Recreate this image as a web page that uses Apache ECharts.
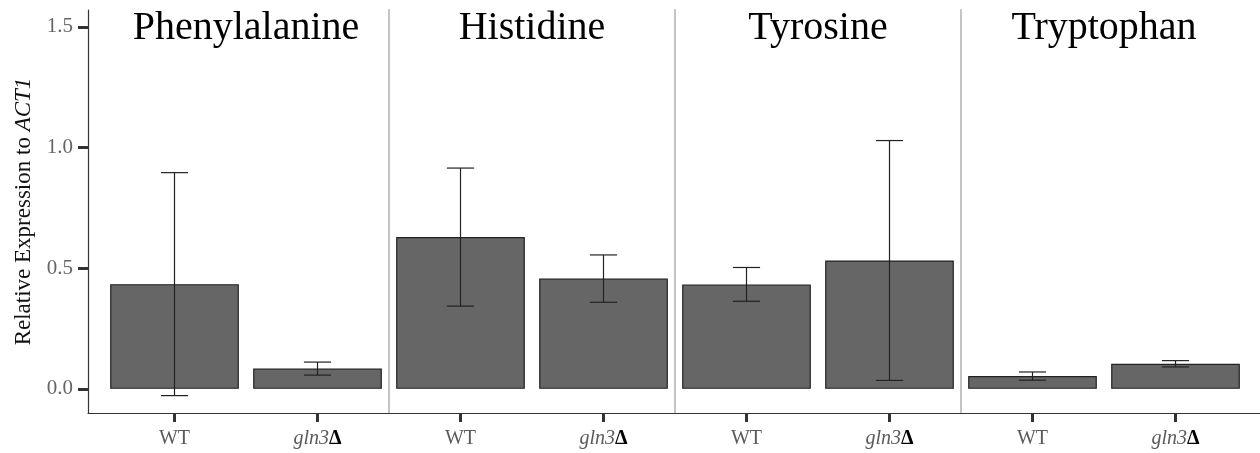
<!DOCTYPE html>
<html>
<head>
<meta charset="utf-8">
<script src="https://cdn.jsdelivr.net/npm/echarts@6/dist/echarts.min.js"></script>
<style>
  html, body { margin: 0; padding: 0; background: #fff; }
  #chart { width: 1260px; height: 453px; }
</style>
</head>
<body>
<div id="chart"></div>
<script>
// values
const panels = ['Phenylalanine', 'Histidine', 'Tyrosine', 'Tryptophan']
const strains = ['WT', 'gln3Δ']
const wtMean = [0.434, 0.629, 0.433, 0.053]
const wtErr = [0.462, 0.286, 0.070, 0.017]
const gln3Mean = [0.084, 0.457, 0.532, 0.104]
const gln3Err = [0.027, 0.098, 0.497, 0.013]
const yTicks = [0, 0.5, 1, 1.5]

const font = 'Liberation Serif'
const yMin = -0.1
const yMax = 1.57
const gridTop = 10
const gridBottom = 40
const panelLeft = 103
const panelWidth = 286

const chart = echarts.init(document.getElementById('chart'), null, { renderer: 'canvas' })

const grids = [{ left: 88, right: 0, top: gridTop, bottom: gridBottom }]
const xAxes = [{
  gridIndex: 0, type: 'value', min: 0, max: 1,
  axisLine: { show: true, onZero: false, lineStyle: { color: '#333', width: 1.2 } },
  axisTick: { show: false }, axisLabel: { show: false }, splitLine: { show: false }
}]
const yAxes = [{
  gridIndex: 0, type: 'value', min: yMin, max: yMax,
  name: '{a|Relative Expression to }{b|ACT1}',
  nameLocation: 'middle', nameRotate: 90, nameGap: 53,
  nameTextStyle: {
    rich: {
      a: { fontFamily: font, fontSize: 23, color: '#111' },
      b: { fontFamily: font, fontSize: 23, color: '#111', fontStyle: 'italic' }
    }
  },
  axisLine: { show: true, onZero: false, lineStyle: { color: '#333', width: 1.2 } },
  axisTick: { show: true, customValues: yTicks, length: 10, lineStyle: { color: '#333', width: 3 } },
  axisLabel: {
    customValues: yTicks, margin: 15, fontFamily: font, fontSize: 21, color: '#666',
    formatter: (v) => v.toFixed(1)
  },
  splitLine: { show: false }
}]
const titles = []
const series = []

panels.forEach((p, i) => {
  const gi = i + 1
  grids.push({ left: panelLeft + panelWidth * i, width: panelWidth, top: gridTop, bottom: gridBottom })
  xAxes.push({
    gridIndex: gi, type: 'category', data: strains,
    axisLine: { show: false, onZero: false },
    axisTick: { show: true, alignWithLabel: true, length: 9, lineStyle: { color: '#333', width: 3 } },
    axisLabel: {
      margin: 16,
      formatter: (v) => v === 'WT' ? '{n|WT}' : '{i|gln3}{d|Δ}',
      rich: {
        n: { fontFamily: font, fontSize: 20, color: '#5a5a5a' },
        i: { fontFamily: font, fontSize: 20, color: '#5a5a5a', fontStyle: 'italic' },
        d: { fontFamily: font, fontSize: 20, color: '#000', fontWeight: 'bold' }
      }
    }
  })
  yAxes.push({
    gridIndex: gi, type: 'value', min: yMin, max: yMax, position: 'right',
    axisLine: { show: i < panels.length - 1, onZero: false, lineStyle: { color: '#c4c4c4', width: 2 } },
    axisTick: { show: false }, axisLabel: { show: false }, splitLine: { show: false }
  })
  titles.push({
    text: p, left: panelLeft + panelWidth * i + panelWidth / 2, top: 8, textAlign: 'center', padding: 0,
    textStyle: { fontFamily: font, fontSize: 40, fontWeight: 'normal', color: '#000' }
  })
  series.push({
    type: 'bar', xAxisIndex: gi, yAxisIndex: gi, barWidth: '90%',
    data: [wtMean[i], gln3Mean[i]],
    itemStyle: { color: '#666666', borderColor: '#222', borderWidth: 1.2 },
    silent: true
  })
  series.push({
    type: 'custom', xAxisIndex: gi, yAxisIndex: gi, silent: true, z: 5,
    data: [
      [0, wtMean[i] - wtErr[i], wtMean[i] + wtErr[i]],
      [1, gln3Mean[i] - gln3Err[i], gln3Mean[i] + gln3Err[i]]
    ],
    renderItem: function (params, api) {
      const lo = api.coord([api.value(0), api.value(1)])
      const hi = api.coord([api.value(0), api.value(2)])
      const half = api.size([1, 0])[0] * 0.095
      const style = { stroke: '#222', lineWidth: 1.2 }
      return {
        type: 'group',
        children: [
          { type: 'line', shape: { x1: hi[0], y1: hi[1], x2: lo[0], y2: lo[1] }, style: style },
          { type: 'line', shape: { x1: hi[0] - half, y1: hi[1], x2: hi[0] + half, y2: hi[1] }, style: style },
          { type: 'line', shape: { x1: lo[0] - half, y1: lo[1], x2: lo[0] + half, y2: lo[1] }, style: style }
        ]
      }
    }
  })
})

chart.setOption({
  animation: false,
  backgroundColor: '#fff',
  title: titles,
  grid: grids,
  xAxis: xAxes,
  yAxis: yAxes,
  series: series
})
</script>
</body>
</html>
